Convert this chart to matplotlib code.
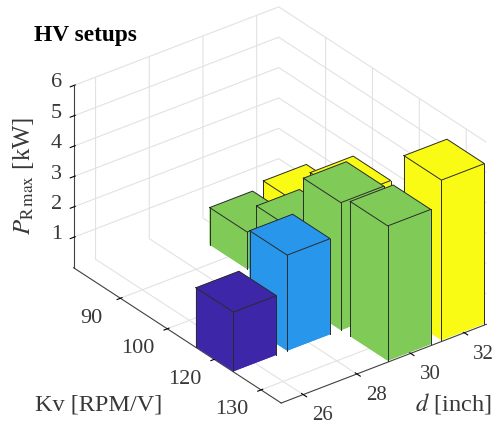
import matplotlib
matplotlib.use('Agg')
import matplotlib.pyplot as plt
from mpl_toolkits.mplot3d import proj3d

plt.rcParams['font.family'] = 'Liberation Serif'
plt.rcParams['mathtext.fontset'] = 'stix'

# Data (categories are placed at index 1..4)
kv_labels = ['90', '100', '120', '130']
d_labels = ['26', '28', '30', '32']
z_ticks = [1, 2, 3, 4, 5, 6]

# colour goes by d column
colours = {0: '#3D26A8', 1: '#2896EB', 2: '#80CB58', 3: '#F9FB15'}

kv_idx = [1, 2, 1, 2, 3, 3, 3, 4, 4]
d_idx = [3, 3, 4, 4, 1, 2, 3, 3, 4]
p_rmax = [1.22, 2.28, 1.42, 2.7, 1.95, 3.15, 4.2, 4.44, 5.27]

W = 494
H = 425
EDGE = '#2b2b2b'
TXT = '#383838'
fig = plt.figure(figsize=(W / 100, H / 100), dpi=100)
side = 463
ax = fig.add_axes([42.2 / W, -17.7 / H, side / W, side / H], projection='3d')
ax.set_proj_type('ortho')
ax.view_init(elev=30, azim=-37.5)
ax.computed_zorder = False
ax.set_box_aspect((339, 257, 209))

ax.set_xlim(0, 4.43, view_margin=0)
ax.set_ylim(0.59, 4.41, view_margin=0)
ax.set_zlim(0, 6, view_margin=0)

# back to front so the bars cover each other properly
order = sorted(range(len(p_rmax)), key=lambda i: kv_idx[i] - d_idx[i])
for n, i in enumerate(order):
    x0 = kv_idx[i] - 0.4
    x1 = kv_idx[i] + 0.4
    y0 = d_idx[i] - 0.4
    y1 = d_idx[i] + 0.4
    h = p_rmax[i]
    zo = 5 + 2 * n
    ax.bar3d(x0, y0, 0, 0.8, 0.8, h, color=colours[d_idx[i] - 1],
             edgecolor='none', shade=False, zorder=zo)
    # outline without the base, the reference has no line along the floor
    for xs, ys in [(x0, y0), (x1, y0), (x1, y1)]:
        ax.plot([xs, xs], [ys, ys], [0, h], color=EDGE, lw=0.7, zorder=zo + 1)
    ax.plot([x0, x1, x1, x0, x0], [y0, y0, y1, y1, y0], [h] * 5,
            color=EDGE, lw=0.7, zorder=zo + 1)

ax.set_xticks([1, 2, 3, 4])
ax.set_xticklabels([])
ax.set_yticks([1, 2, 3, 4])
ax.set_yticklabels([])
ax.set_zticks(z_ticks)
ax.set_zticklabels([])

for axis in (ax.xaxis, ax.yaxis, ax.zaxis):
    axis.set_pane_color((1, 1, 1, 0))
    axis.pane.set_edgecolor((1, 1, 1, 0))
    axis.line.set_color('#404040')
    axis.line.set_linewidth(0.8)
    axis._axinfo['grid']['color'] = '#e2e2e2'
    axis._axinfo['grid']['linewidth'] = 0.8
    axis._axinfo['tick']['color'] = '#404040'
    axis._axinfo['tick']['linewidth'] = {True: 0.8, False: 0.5}

ax.zaxis.set_ticks_position('lower')


def tick_text(x, y, z, lab, size):
    # project the 3d spot and put plain 2d text there
    px, py, _ = proj3d.proj_transform(x, y, z, ax.get_proj())
    ax.text2D(px, py, lab, transform=ax.transData, fontsize=size, color=TXT,
              ha='center', va='center', zorder=50)


# tick labels as text so they can sit where the reference has them
for k, lab in enumerate(kv_labels):
    tick_text(k + 1 + 0.177, -0.111, 0, lab, 16)
for k, lab in enumerate(d_labels):
    tick_text(5.024, k + 1 - 0.156, 0, lab, 15)
for z in z_ticks:
    tick_text(-0.137, 0.39, z + 0.083, str(z), 16)

fig.text(34 / W, 1 - 41 / H, 'HV setups', fontsize=16.8, fontweight='bold', color='black')
fig.text(24 / W, 1 - 176 / H, r'$P_{\mathrm{R\,max}}$ [kW]', fontsize=17.8, rotation=90,
         ha='center', va='center', color=TXT)
fig.text(35 / W, 1 - 410 / H, 'Kv [RPM/V]', fontsize=17.5, color=TXT)
fig.text(415 / W, 1 - 410 / H, r'$d$ [inch]', fontsize=17.6, color=TXT)

fig.savefig('out.png', dpi=100)
